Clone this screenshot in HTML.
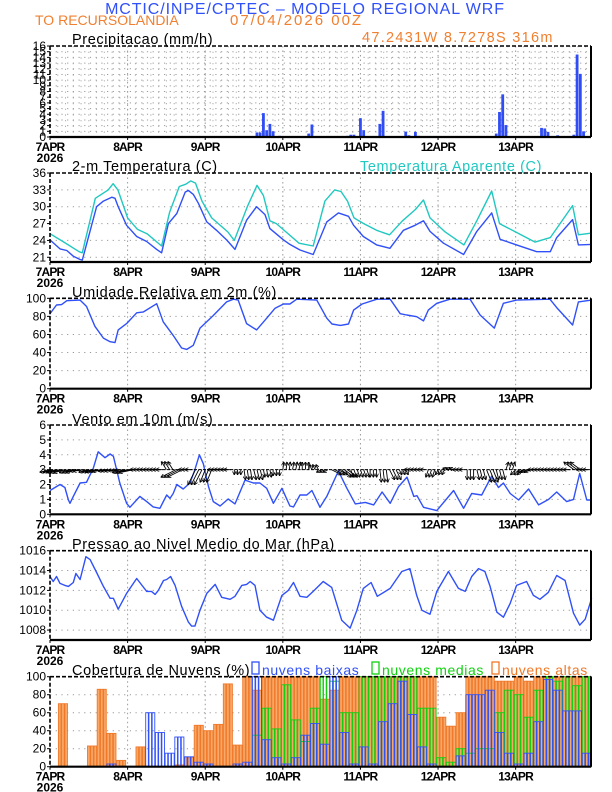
<!DOCTYPE html>
<html><head><meta charset="utf-8">
<style>
html,body{margin:0;padding:0;background:#fff;}
svg{display:block;font-family:"Liberation Sans",sans-serif;}
</style></head>
<body>
<svg id="chart" width="612" height="792" viewBox="0 0 612 792" xmlns="http://www.w3.org/2000/svg">
<defs>
<marker id="ah" viewBox="0 0 10 10" refX="9" refY="5" markerWidth="4" markerHeight="4" markerUnits="userSpaceOnUse" orient="auto"><path d="M0,0 L10,5 L0,10" fill="none" stroke="#000" stroke-width="2"/></marker>
</defs>
<text x="305" y="14" text-anchor="middle" font-size="16" fill="#3050f8" letter-spacing="0.9">MCTIC/INPE/CPTEC – MODELO REGIONAL WRF</text>
<text x="35" y="25" font-size="14" fill="#f08030" letter-spacing="0">TO RECURSOLANDIA</text>
<text x="230" y="25" font-size="15" fill="#f08030" letter-spacing="2">07/04/2026 00Z</text>
<text x="362" y="42" font-size="14.5" fill="#f08030" letter-spacing="1.3">47.2431W 8.7278S 316m</text>
<g id="layer"></g>
</svg>
<script>
// ---- data ----
const dayLabels = ["7APR","8APR","9APR","10APR","11APR","12APR","13APR"];
const precipHours = [15,25,64,65,66,67,68,69,71,80,81,92,93,94,96,97,102,103,110,111,113,114,138,139,140,141,152,153,154,157,162,163,164,165];
const precipValues = [0.1,0.1,0.8,0.8,4.2,1.2,2.3,1.0,0.2,0.6,2.2,0.2,0.4,0.4,3.3,1.2,2.3,4.6,0.95,0.3,0.9,0.2,0.6,4.4,7.5,2.1,1.6,1.5,0.9,0.3,0.4,14.5,11.1,1.0];
const precipTicks = [0,1,2,3,4,5,6,7,8,9,10,11,12,13,14,15,16];

const tempHours = [0,3.1,5.2,7.2,9.3,10,14.4,16.5,19.1,20.1,21.1,23.7,26.8,29.9,33,34.5,36.6,39.2,41.8,42.8,44.3,45.9,48.5,51.5,54.6,57.2,60.8,63.9,66.5,68,72.2,74.2,77.3,81.4,85.6,89.2,92.3,93.9,96.9,101,105.1,109.3,112.9,115.5,117.5,121.7,127.9,132,136.6,139.2,144.3,150.5,154.7,156.7,161.6,163.4,167.5];
const tempValues = [24.1,22.5,22.2,21.2,20.6,20.5,30.0,31.0,31.7,31.5,30.0,26.7,24.7,23.8,22.4,21.8,27.0,28.8,32.6,32.9,32.2,30.6,27.3,25.8,24.1,22.4,27.6,30.0,28.6,26.1,24.1,23.3,22.3,21.5,27.3,28.9,28.3,26.7,24.7,23.2,22.6,25.8,26.7,27.5,25.6,23.5,21.5,25.6,28.9,24.2,23.2,22.0,22.0,24.5,27.7,23.2,23.3];
const appHours = [0,4,9,10,14,18,19.5,21,24,27,30,34.5,37,40,42,43.5,45,47,50,55,57,61,64,66,68,70,73,77,81.4,85,88,90,92,94,97,101,105,109,113,115.5,117.5,122,128,132,136.6,139,144,150,154.7,161.6,163.4,167.5];
const appValues = [25.2,23.8,22.0,21.8,31.5,33.0,34.1,33.0,28.0,26.0,25.2,23.0,29.0,33.6,34.0,34.6,34.2,31.0,28.0,25.5,24.0,30.0,33.8,32.0,27.5,27.0,25.5,23.5,23.0,31.0,33.0,32.7,31.0,28.0,27.0,25.8,25.0,27.5,29.5,31.2,28.0,25.6,23.2,27.5,32.8,27.0,25.5,23.7,24.5,30.2,25.0,25.3];
const tempTicks = [21,24,27,30,33,36];

const rhHours = [0,2,3.6,5.2,9.3,11.3,13.9,16.5,18.6,20.1,21.1,23.7,26.8,28.9,33,35,38.1,40.7,42.3,44.3,46.4,50.5,54.6,56.7,58.2,60.8,63.9,67,69.6,72.2,74.2,76.3,82.5,85.6,87.2,89.8,92.3,93.9,96.5,101.1,105.2,108.3,110.3,113.4,115.5,117,119.6,123.7,129.9,133,137.4,140.2,144.3,154.6,156.7,161.6,163.4,167.5];
const rhValues = [83,92.6,93,97.4,98,91,69,56,52,51,65,72,84,85,94,74,59,45,43.5,48,67,81,96,99,98,72,65,78,89,93.7,93.7,99,98,78,71.6,70,71.6,87,93.7,99,99,83,81.5,79.7,75,87,94.5,99,99,81.5,67,94.5,98,99,89.7,70.5,96,98];
const rhTicks = [0,20,40,60,80,100];

const windHours = [0,3.1,4.6,5.7,6.2,7.2,9.3,11.3,13.4,14.9,17,18.6,19.6,21.6,23.7,24.7,27.8,29.9,31.9,34,36.1,37.1,38.1,39.2,41.2,43.3,44.8,46.2,47.4,49,50.5,52.6,55.1,57.2,60.3,62.9,64.9,67,69.1,71.7,74.2,75.3,77.3,79.4,81,83.5,85.6,89.2,91.8,94.4,97.5,100.1,102.7,105.2,107.8,110.4,112.5,113.5,115.5,119.6,124.8,127.9,130.4,133.5,136.6,138.7,140.2,142.3,144.9,148,151.1,154.2,156.7,159.8,161.9,163.8,166,167.5];
const windSpeed = [1.6,2.0,1.8,0.96,0.74,1.2,2.1,2.15,3.1,4.2,3.8,4.05,3.9,2.1,0.74,0.47,1.2,0.85,0.5,0.4,1.3,1.07,1.4,2.0,1.7,2.1,3.0,4.0,3.4,1.86,0.85,0.56,1.03,0.7,2.3,2.1,2.1,1.75,0.74,1.75,0.56,0.5,1.3,1.3,1.6,0.47,1.2,2.9,1.75,0.7,0.8,0.63,1.5,0.74,1.86,2.5,1.2,1.25,0.47,0.25,1.6,0.4,1.4,1.3,2.57,1.8,2.1,1.4,0.96,1.7,0.63,1.0,1.5,0.85,1.0,2.75,0.96,0.96];
const windTicks = [0,1,2,3,4,5,6];
const arrowHours = [0,3,6,9,12,15,18,21,24,27,30,33,36,39,42,45,48,51,54,57,60,63,66,69,72,75,78,81,84,87,90,93,96,99,102,105,108,111,114,117,120,123,126,129,132,135,138,141,144,147,150,153,156,159,162,165];
const arrowU = [-2,-2.5,-2,-2.5,-2,-2.5,-2,-2,-3,-1.5,-1.5,-1.5,-1,-3,-1.5,-1.5,-1,-1.5,-1.5,0,0.3,0.5,0.3,0,0.2,0.3,0,-0.5,-1,2,2,0.5,0.5,0,0.3,1,0.5,-1,-1,-0.5,-0.5,-1,-1,0,0.5,1,0.5,0.5,-1,-1.5,-1.5,-1.5,-1.5,-1.5,-2,-1.5];
const arrowV = [-0.5,-0.6,-0.6,-0.3,-0.5,-0.4,-0.3,-0.2,-0.6,0,0,0,1.6,-1.5,0,-3,-2.5,0,0,-1,-2,-2,-1.5,-1.2,1.5,1.5,1.5,1,-0.5,-1,-1.5,-1.5,-1.5,-1.5,-2.5,-2,-1,0,0,-1.5,-1,0.3,0,-2,-2,-2.5,-2,1.5,-1,-0.5,0,0,0,0,1.5,0];

const presHours = [0,1,2,3.1,4.6,5.7,7.2,8,9.3,11.1,12.4,14.4,16.5,18.6,19.6,21.1,23.7,26.8,29.9,31.4,32.5,33.5,35.1,36.1,37.3,38.7,40.7,42.8,43.8,44.8,46.4,48.5,51.1,53.1,55.7,57.2,59.3,60.8,61.9,63.4,64.9,67,69.1,71.7,73.7,75.3,77.3,79.4,81.4,84.5,87.1,90.2,92.8,94.9,96.9,99.3,101.2,105.2,108.8,111.3,113.4,115,117.5,119.6,123.2,126.3,128.4,130.4,132.5,134.5,136.1,138.2,140.2,142.3,144.3,147.4,149.5,151.5,154.1,156.7,159.3,161.9,163.8,165.5,167.5];
const presValues = [1013.4,1012.9,1013.4,1012.7,1012.5,1012.4,1012.8,1013.7,1013.1,1015.4,1015.1,1013.8,1012.4,1011.2,1011.2,1010.1,1011.7,1013.2,1011.9,1011.9,1011.6,1012.0,1013.0,1013.1,1013.4,1012.5,1010.4,1008.8,1008.4,1008.4,1010.0,1011.7,1012.6,1011.3,1011.1,1011.4,1012.5,1012.6,1012.9,1012.5,1010.0,1009.3,1009.0,1011.5,1012.0,1012.8,1011.4,1011.3,1011.9,1012.9,1012.3,1009.0,1008.2,1010.0,1012.2,1012.8,1011.4,1012.2,1013.9,1014.2,1011.5,1010.0,1009.6,1011.9,1013.9,1012.2,1011.9,1013.4,1014.2,1013.9,1012.4,1009.8,1009.3,1010.7,1012.5,1012.9,1011.5,1011.1,1011.8,1013.5,1013.0,1009.7,1008.5,1009.1,1011.2];
const presTicks = [1008,1010,1012,1014,1016];

const cloudHours = [0,3,6,9,12,15,18,21,24,27,30,33,36,39,42,45,48,51,54,57,60,63,66,69,72,75,78,81,84,87,90,93,96,99,102,105,108,111,114,117,120,123,126,129,132,135,138,141,144,147,150,153,156,159,162,165];
const cloudHigh = [0,70,0,0,23,86,37,7,0,22,0,0,0,2,10,46,40,47,92,24,100,85,100,100,100,100,100,100,75,85,100,100,100,100,100,100,100,100,100,100,55,45,60,100,100,100,95,95,100,95,100,100,100,100,100,100];
const cloudMid = [0,0,0,0,0,0,0,0,0,0,0,0,0,0,0,0,0,0,0,0,0,35,65,42,91,52,28,65,100,95,60,60,100,100,100,100,100,100,65,65,10,5,20,15,20,20,60,85,80,55,85,100,95,100,90,100];
const cloudLow = [0,0,0,0,0,0,3,0,0,0,60,38,15,33,11,5,3,0,0,3,5,100,30,10,3,10,35,48,25,100,38,3,22,3,50,70,95,58,22,3,0,0,12,80,80,85,38,15,3,15,50,97,85,62,62,15];
const cloudTicks = [0,20,40,60,80,100];

// ---- layout ----
const X0 = 50, X1 = 591, HMAX = 167.3;
const NS = "http://www.w3.org/2000/svg";
const layer = document.getElementById('layer');
function xh(h){ return X0 + (X1 - X0) * h / HMAX; }
function mk(tag, attrs, parent){
  const e = document.createElementNS(NS, tag);
  for (const k in attrs) e.setAttribute(k, attrs[k]);
  (parent || layer).appendChild(e);
  return e;
}
function yScale(p, v){ return p.bot - (v - p.min) / (p.max - p.min) * (p.bot - p.top); }

const panels = {
  precip:{top:46,bot:137,min:0,max:16,ticks:precipTicks,name:'precip'},
  temp:{top:173,bot:262,min:20.16,max:36,ticks:tempTicks,name:'temp'},
  rh:{top:298.3,bot:388.7,min:0,max:100,ticks:rhTicks,name:'humidity'},
  wind:{top:425,bot:514.3,min:0,max:6,ticks:windTicks,name:'wind'},
  pres:{top:550.7,bot:640,min:1007,max:1016,ticks:presTicks,name:'pressure'},
  cloud:{top:676.7,bot:766.7,min:0,max:100,ticks:cloudTicks,name:'cloud'}
};

function drawFrame(p, dense){
  const g = mk('g', {});
  
  
  p.ticks.forEach(t => {
    const y = yScale(p, t);
    if (y > p.top + 1 && y < p.bot - 1) mk('line', {x1:X0, x2:X1, y1:y, y2:y, stroke:'#999', 'stroke-width':1, 'stroke-dasharray':'1.2 4.5'}, g);
    const lab = mk('text', {x:46, y:y+4, 'text-anchor':'end', 'font-size':12, fill:'#000'});
    
    
    lab.textContent = t;
    mk('line', {x1:X0-3, x2:X0, y1:y, y2:y, stroke:'#000'}, g);
  });
  if (dense) {
    for (let h = 2.4; h < HMAX; h += 2.4) {
      if (Math.abs((h % 24)) < 0.5) continue;
      mk('line', {x1:xh(h), x2:xh(h), y1:p.top, y2:p.bot, stroke:'#aaa', 'stroke-width':1, 'stroke-dasharray':'1.2 4.5'}, g);
    }
  }
  for (let d = 1; d < 7; d++) {
    mk('line', {x1:xh(d*24), x2:xh(d*24), y1:p.top, y2:p.bot, stroke:'#999', 'stroke-width':1, 'stroke-dasharray':'1.5 3'}, g);
  }
  dayLabels.forEach((lbl, d) => {
    const x = xh(d*24);
    mk('line', {x1:x, x2:x, y1:p.bot, y2:p.bot+3, stroke:'#000'}, g);
    const t = mk('text', {x:x, y:p.bot+14, 'text-anchor':'middle', 'font-size':12, fill:'#000', 'font-weight':'bold', 'letter-spacing':'-0.8'});
    
    
    t.textContent = lbl;
  });
  const yr = mk('text', {x:X0, y:p.bot+25, 'text-anchor':'middle', 'font-size':12, fill:'#000', 'font-weight':'bold'});
  
  
  yr.textContent = '2026';
}
function drawBorder(p){
  const g = mk('g', {});
  
  
  mk('line', {x1:X0, x2:X1, y1:p.top, y2:p.top, stroke:'#000', 'stroke-width':1.6, 'stroke-dasharray':'4 2'}, g);
  mk('line', {x1:X0, x2:X0, y1:p.top, y2:p.bot, stroke:'#000', 'stroke-width':1.6, 'stroke-dasharray':'4 2'}, g);
  mk('line', {x1:X1, x2:X1, y1:p.top, y2:p.bot, stroke:'#000', 'stroke-width':2}, g);
  mk('line', {x1:X0, x2:X1, y1:p.bot, y2:p.bot, stroke:'#000', 'stroke-width':2.2}, g);
}
function title(x, y, txt, color, name){
  const t = mk('text', {x:x, y:y, 'font-size':14.5, fill:color, 'letter-spacing':'0.6'});
  
  
  t.textContent = txt;
  return t;
}
function line(p, hours, vals, color, name){
  const pts = hours.map((h, i) => xh(h).toFixed(1) + ',' + yScale(p, vals[i]).toFixed(1)).join(' ');
  const l = mk('polyline', {points:pts, fill:'none', stroke:color, 'stroke-width':1.4, 'stroke-linejoin':'round'});
  
  
}

// Precip
drawFrame(panels.precip, true);
title(72, 44, 'Precipitacao (mm/h)', '#000', 'precip-title');
precipHours.forEach((h, i) => {
  const p = panels.precip, y = yScale(p, precipValues[i]);
  const r = mk('rect', {x:xh(h)-1.4, y:y, width:2.8, height:p.bot-y, fill:'#2f4cf5'});
  
  
});
drawBorder(panels.precip);

// Temp
drawFrame(panels.temp, false);
title(72, 171, '2-m Temperatura (C)', '#000', 'temp-title');
title(360, 171, 'Temperatura Aparente (C)', '#20c8c0', 'apparent-temp-legend');
line(panels.temp, appHours, appValues, '#20c8c0', 'apparent-temp-line');
line(panels.temp, tempHours, tempValues, '#3050f8', 'temp-line');
drawBorder(panels.temp);

// RH
drawFrame(panels.rh, false);
title(72, 297, 'Umidade Relativa em 2m (%)', '#000', 'humidity-title');
line(panels.rh, rhHours, rhValues, '#3050f8', 'humidity-line');
drawBorder(panels.rh);

// Wind
drawFrame(panels.wind, false);
title(72, 424, 'Vento em 10m (m/s)', '#000', 'wind-title');
line(panels.wind, windHours, windSpeed, '#3050f8', 'wind-speed-line');
{
  const p = panels.wind, y3 = yScale(p, 3);
  mk('line', {x1:X0, x2:X1, y1:y3, y2:y3, stroke:'#000', 'stroke-width':1, 'stroke-dasharray':'3 1.5'});
  const S = 5;
  arrowHours.forEach((h, i) => {
    for (let k = 0; k < 3; k++) {
      const x = xh(h + k);
      const a = mk('line', {x1:x, y1:y3, x2:x + arrowU[i]*S, y2:y3 - arrowV[i]*S, stroke:'#000', 'stroke-width':0.9, 'marker-end':'url(#ah)'});
      
      
    }
  });
}
drawBorder(panels.wind);

// Pressure
drawFrame(panels.pres, false);
title(72, 549, 'Pressao ao Nivel Medio do Mar (hPa)', '#000', 'pressure-title');
line(panels.pres, presHours, presValues, '#3050f8', 'pressure-line');
drawBorder(panels.pres);

// Clouds
drawFrame(panels.cloud, false);
title(72, 675, 'Cobertura de Nuvens (%)', '#000', 'cloud-title');
function bars(vals, fill, stroke, name){
  const p = panels.cloud;
  cloudHours.forEach((h, i) => {
    if (vals[i] <= 0) return;
    for (let k = 0; k < 3; k++) {
      const y = yScale(p, vals[i]);
      const r = mk('rect', {x:xh(h+k)-1.3, y:y, width:2.6, height:p.bot-y, fill:fill, stroke:stroke, 'stroke-width':0.9});
      
      
    }
  });
}
bars(cloudHigh, '#f8a868', '#f07828', 'cloud-high-bar');
bars(cloudMid, 'none', '#10d010', 'cloud-mid-bar');
bars(cloudLow, 'none', '#3050f8', 'cloud-low-bar');
drawBorder(panels.cloud);
// legend
[['nuvens baixas','#3050f8',252],['nuvens medias','#10d010',372],['nuvens altas','#f07828',492]].forEach(([txt,c,x]) => {
  const g = mk('g', {});
  
  
  mk('rect', {x:x, y:662, width:7, height:12, fill:'none', stroke:c, 'stroke-width':1.3}, g);
  const t = mk('text', {x:x+10, y:675, 'font-size':14, fill:c, 'letter-spacing':'0.6'}, g);
  t.textContent = txt;
});
</script>
</body></html>
